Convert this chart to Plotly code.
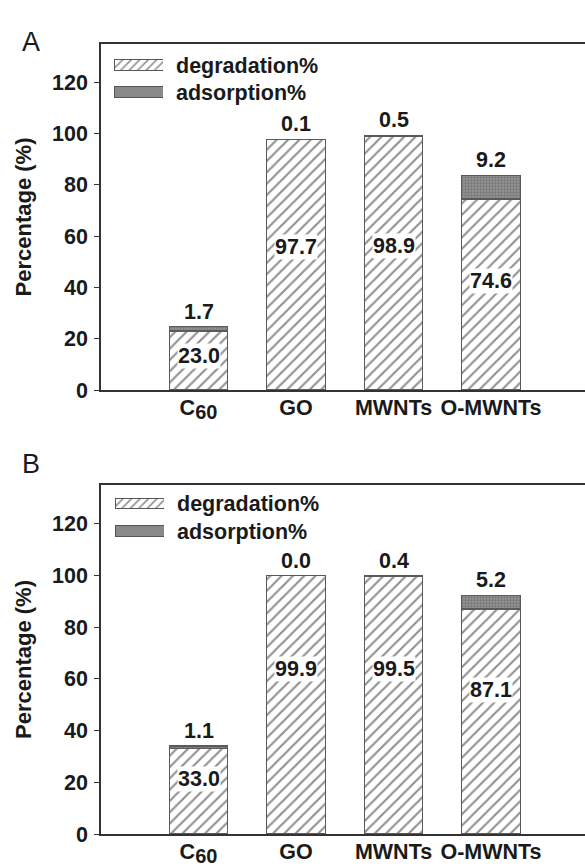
import plotly.graph_objects as go

categories = ["C<sub><span style='font-size:20px'>60</span></sub>", "GO", "MWNTs", "O-MWNTs"]
deg_A = [23.0, 97.7, 98.9, 74.6]
ads_A = [1.7, 0.1, 0.5, 9.2]
deg_B = [33.0, 99.9, 99.5, 87.1]
ads_B = [1.1, 0.0, 0.4, 5.2]
y_ticks = [0, 20, 40, 60, 80, 100, 120]
legend_names = ["degradation%", "adsorption%"]

FONT = "Liberation Sans, Arial, sans-serif"
TXT = "#1a1a1a"
W, H = 585, 866
L, R, T, B = 101, 0, 44, 32
PW, PH = W - L - R, H - T - B

def py(p):  # pixel y -> paper
    return (H - B - p) / PH

def px(p):
    return (p - L) / PW

hatch = dict(shape="/", fgcolor="#222222", bgcolor="white", size=8, solidity=0.27)
stipple = dict(shape=".", fgcolor="#555555", bgcolor="#959595", size=3, solidity=0.45)
edge = dict(color="#5a5a5a", width=1.4)

fig = go.Figure()

panels = [("x", "y", deg_A, ads_A, 0.57), ("x2", "y2", deg_B, ads_B, 0.64)]
for xa, ya, deg, ads, frac in panels:
    fig.add_bar(x=categories, y=deg, xaxis=xa, yaxis=ya, width=0.6,
                marker=dict(pattern=hatch, line=edge), showlegend=False)
    fig.add_bar(x=categories, y=ads, xaxis=xa, yaxis=ya, width=0.6,
                marker=dict(pattern=stipple, line=edge), showlegend=False)
    for c, d, a in zip(categories, deg, ads):
        fig.add_annotation(x=c, y=d * frac, xref=xa, yref=ya, text=f"<b>{d:.1f}</b>",
                           showarrow=False, bgcolor="white", borderpad=0,
                           font=dict(family=FONT, size=21.5, color=TXT))
        fig.add_annotation(x=c, y=d + a, xref=xa, yref=ya, text=f"<b>{a:.1f}</b>",
                           showarrow=False, yanchor="bottom", yshift=1,
                           font=dict(family=FONT, size=21.5, color=TXT))

# legend swatches as small horizontal bars on inset axes
leg_axes = [("x3", "y3"), ("x4", "y4")]
for xa, ya in leg_axes:
    fig.add_bar(x=[1], y=[legend_names[0]], orientation="h", xaxis=xa, yaxis=ya, width=0.38,
                marker=dict(pattern=dict(hatch, size=6), line=dict(color="#555555", width=1)),
                showlegend=False)
    fig.add_bar(x=[1], y=[legend_names[1]], orientation="h", xaxis=xa, yaxis=ya, width=0.38,
                marker=dict(pattern=dict(stipple, size=2), line=dict(color="#555555", width=1)),
                showlegend=False)

axis_common_x = dict(showline=True, linecolor="#333333", linewidth=1.5, mirror=True,
                     ticks="", showgrid=False, range=[-1, 3.964], zeroline=False,
                     automargin=False,
                     tickfont=dict(family=FONT, size=21.5, color=TXT, weight="bold"),
                     ticklabelstandoff=-3)
axis_common_y = dict(showline=True, linecolor="#333333", linewidth=1.5, ticks="outside",
                     ticklen=5, tickcolor="#333333", tickwidth=1.3, showgrid=False,
                     range=[0, 135], tickvals=y_ticks, zeroline=False,
                     ticklabelstandoff=2, automargin=False,
                     tickfont=dict(family=FONT, size=21.5, color=TXT, weight="bold"),
                     title=dict(text="Percentage (%)", standoff=14,
                                font=dict(family=FONT, size=22, color=TXT, weight="bold")))

domA = [py(390), 1.0]
domB = [0.0, py(485)]

def leg_dom(c1, c2):
    half = (c2 - c1) / 2
    return [py(c2 + half), py(c1 - half)]

leg_font = dict(family=FONT, size=21.5, color=TXT, weight="bold")
fig.update_layout(
    width=W, height=H, margin=dict(l=L, r=R, t=T, b=B, autoexpand=False),
    paper_bgcolor="white", plot_bgcolor="white", barmode="stack", bargap=0.4,
    xaxis=dict(axis_common_x, domain=[0, 1], anchor="y"),
    yaxis=dict(axis_common_y, domain=domA, anchor="x"),
    xaxis2=dict(axis_common_x, domain=[0, 1], anchor="y2"),
    yaxis2=dict(axis_common_y, domain=domB, anchor="x2"),
    xaxis3=dict(domain=[px(114), px(163)], anchor="y3", range=[0, 1], visible=False),
    yaxis3=dict(domain=leg_dom(65, 92), anchor="x3", side="right", showline=False, ticks="",
                categoryorder="array", categoryarray=legend_names[::-1], tickfont=leg_font,
                ticklabelstandoff=12, showgrid=False, zeroline=False, automargin=False),
    xaxis4=dict(domain=[px(115), px(164)], anchor="y4", range=[0, 1], visible=False),
    yaxis4=dict(domain=leg_dom(503.5, 531), anchor="x4", side="right", showline=False, ticks="",
                categoryorder="array", categoryarray=legend_names[::-1], tickfont=leg_font,
                ticklabelstandoff=12, showgrid=False, zeroline=False, automargin=False),
)

for lab, xpix, ypix in [("A", 20, 25), ("B", 20, 464)]:
    fig.add_annotation(text=lab, x=px(xpix), y=py(ypix), xref="paper", yref="paper",
                       showarrow=False, font=dict(family=FONT, size=27, color=TXT))

fig.write_html("out.html")
